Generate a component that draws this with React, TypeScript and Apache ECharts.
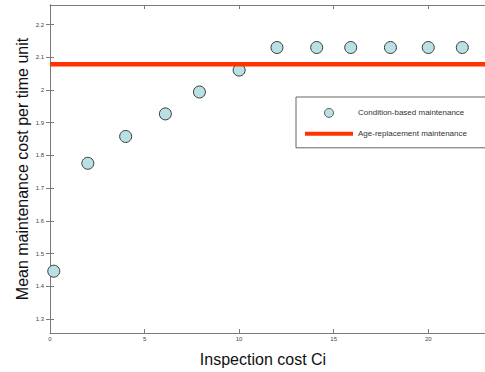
import React, { useEffect, useRef } from "react";
import * as echarts from "echarts";

const inspectionCost = [0.2, 2, 4, 6.1, 7.9, 10, 12, 14.1, 15.9, 18, 20, 21.8];
const conditionBasedCost = [1.446, 1.776, 1.858, 1.927, 1.994, 2.061, 2.13, 2.13, 2.13, 2.13, 2.13, 2.13];
const ageReplacementCost = 2.079;
const ageLineX = [0, 23];
const xTicks = [0, 5, 10, 15, 20];
const yTicks = [1.3, 1.4, 1.5, 1.6, 1.7, 1.8, 1.9, 2.0, 2.1, 2.2];
const seriesNames = ["Condition-based maintenance", "Age-replacement maintenance"];

const FONT = "'Liberation Sans', Arial, sans-serif";
const AXIS_COLOR = "#7a7a7a";
const MARKER_FILL = "#b9e0e3";
const MARKER_EDGE = "#3a3a3a";
const RED = "#ff3300";

export default function App() {
  const ref = useRef<HTMLDivElement>(null);
  useEffect(() => {
    document.body.style.margin = "0";
    const chart = echarts.init(ref.current!, null, { renderer: "svg" });
    const tickStyle = { color: AXIS_COLOR, width: 1 };
    chart.setOption({
      animation: false,
      backgroundColor: "#ffffff",
      textStyle: { fontFamily: FONT },
      grid: { left: 50, top: 5, width: 438, height: 332, containLabel: false },
      legend: {
        orient: "vertical",
        left: 296,
        top: 97,
        padding: [11, 30, 10, 9],
        itemWidth: 48,
        itemHeight: 9,
        itemGap: 12,
        borderColor: "#666666",
        borderWidth: 1,
        backgroundColor: "#ffffff",
        textStyle: { fontSize: 8, color: "#333333", fontFamily: FONT },
        data: [
          {
            name: seriesNames[0],
            icon: "circle",
            itemStyle: { color: MARKER_FILL, borderColor: MARKER_EDGE, borderWidth: 0.8 },
          },
          {
            name: seriesNames[1],
            icon: "path://M0,0H48V4H0Z",
            itemStyle: { color: RED, borderWidth: 0 },
          },
        ],
      },
      xAxis: [
        {
          type: "value",
          min: 0,
          max: 23,
          position: "bottom",
          axisLine: { show: true, lineStyle: { color: AXIS_COLOR, width: 1 } },
          axisTick: { show: true, inside: true, length: 4, customValues: xTicks, lineStyle: tickStyle },
          axisLabel: { customValues: xTicks, fontSize: 6, color: "#444444", margin: 3, fontFamily: FONT },
          splitLine: { show: false },
          name: "Inspection cost Ci",
          nameLocation: "middle",
          nameGap: 18,
          nameMoveOverlap: false,
          nameTextStyle: { fontSize: 16, color: "#111111", fontFamily: FONT, padding: [0, 9, 0, 0] },
        },
        {
          type: "value",
          min: 0,
          max: 23,
          position: "top",
          axisLine: { show: true, lineStyle: { color: AXIS_COLOR, width: 1 } },
          axisTick: { show: true, inside: true, length: 4, customValues: xTicks, lineStyle: tickStyle },
          axisLabel: { show: false },
          splitLine: { show: false },
        },
      ],
      yAxis: [
        {
          type: "value",
          min: 1.257,
          max: 2.26,
          position: "left",
          axisLine: { show: true, lineStyle: { color: AXIS_COLOR, width: 1 } },
          axisTick: { show: true, inside: true, length: 4, customValues: yTicks, lineStyle: tickStyle },
          axisLabel: {
            customValues: yTicks,
            fontSize: 6,
            color: "#444444",
            margin: 6,
            fontFamily: FONT,
            formatter: (v: number) => String(Math.round(v * 10) / 10),
          },
          splitLine: { show: false },
          name: "Mean maintenance cost per time unit",
          nameLocation: "middle",
          nameGap: 20,
          nameMoveOverlap: false,
          nameTextStyle: { fontSize: 16, color: "#111111", fontFamily: FONT },
        },
        {
          type: "value",
          min: 1.257,
          max: 2.26,
          position: "right",
          axisLine: { show: true, lineStyle: { color: AXIS_COLOR, width: 1 } },
          axisTick: { show: true, inside: true, length: 4, customValues: yTicks, lineStyle: tickStyle },
          axisLabel: { show: false },
          splitLine: { show: false },
        },
      ],
      series: [
        {
          name: seriesNames[0],
          type: "scatter",
          xAxisIndex: 0,
          yAxisIndex: 0,
          symbol: "circle",
          symbolSize: 12,
          itemStyle: { color: MARKER_FILL, borderColor: MARKER_EDGE, borderWidth: 1, opacity: 1 },
          data: inspectionCost.map((x, i) => [x, conditionBasedCost[i]]),
        },
        {
          name: seriesNames[1],
          type: "line",
          xAxisIndex: 0,
          yAxisIndex: 0,
          symbol: "none",
          showSymbol: false,
          lineStyle: { color: RED, width: 4.5 },
          itemStyle: { color: RED },
          data: ageLineX.map((x) => [x, ageReplacementCost]),
        },
      ],
    });
    return () => chart.dispose();
  }, []);
  return <div ref={ref} style={{ width: 485, height: 372 }} />;
}
